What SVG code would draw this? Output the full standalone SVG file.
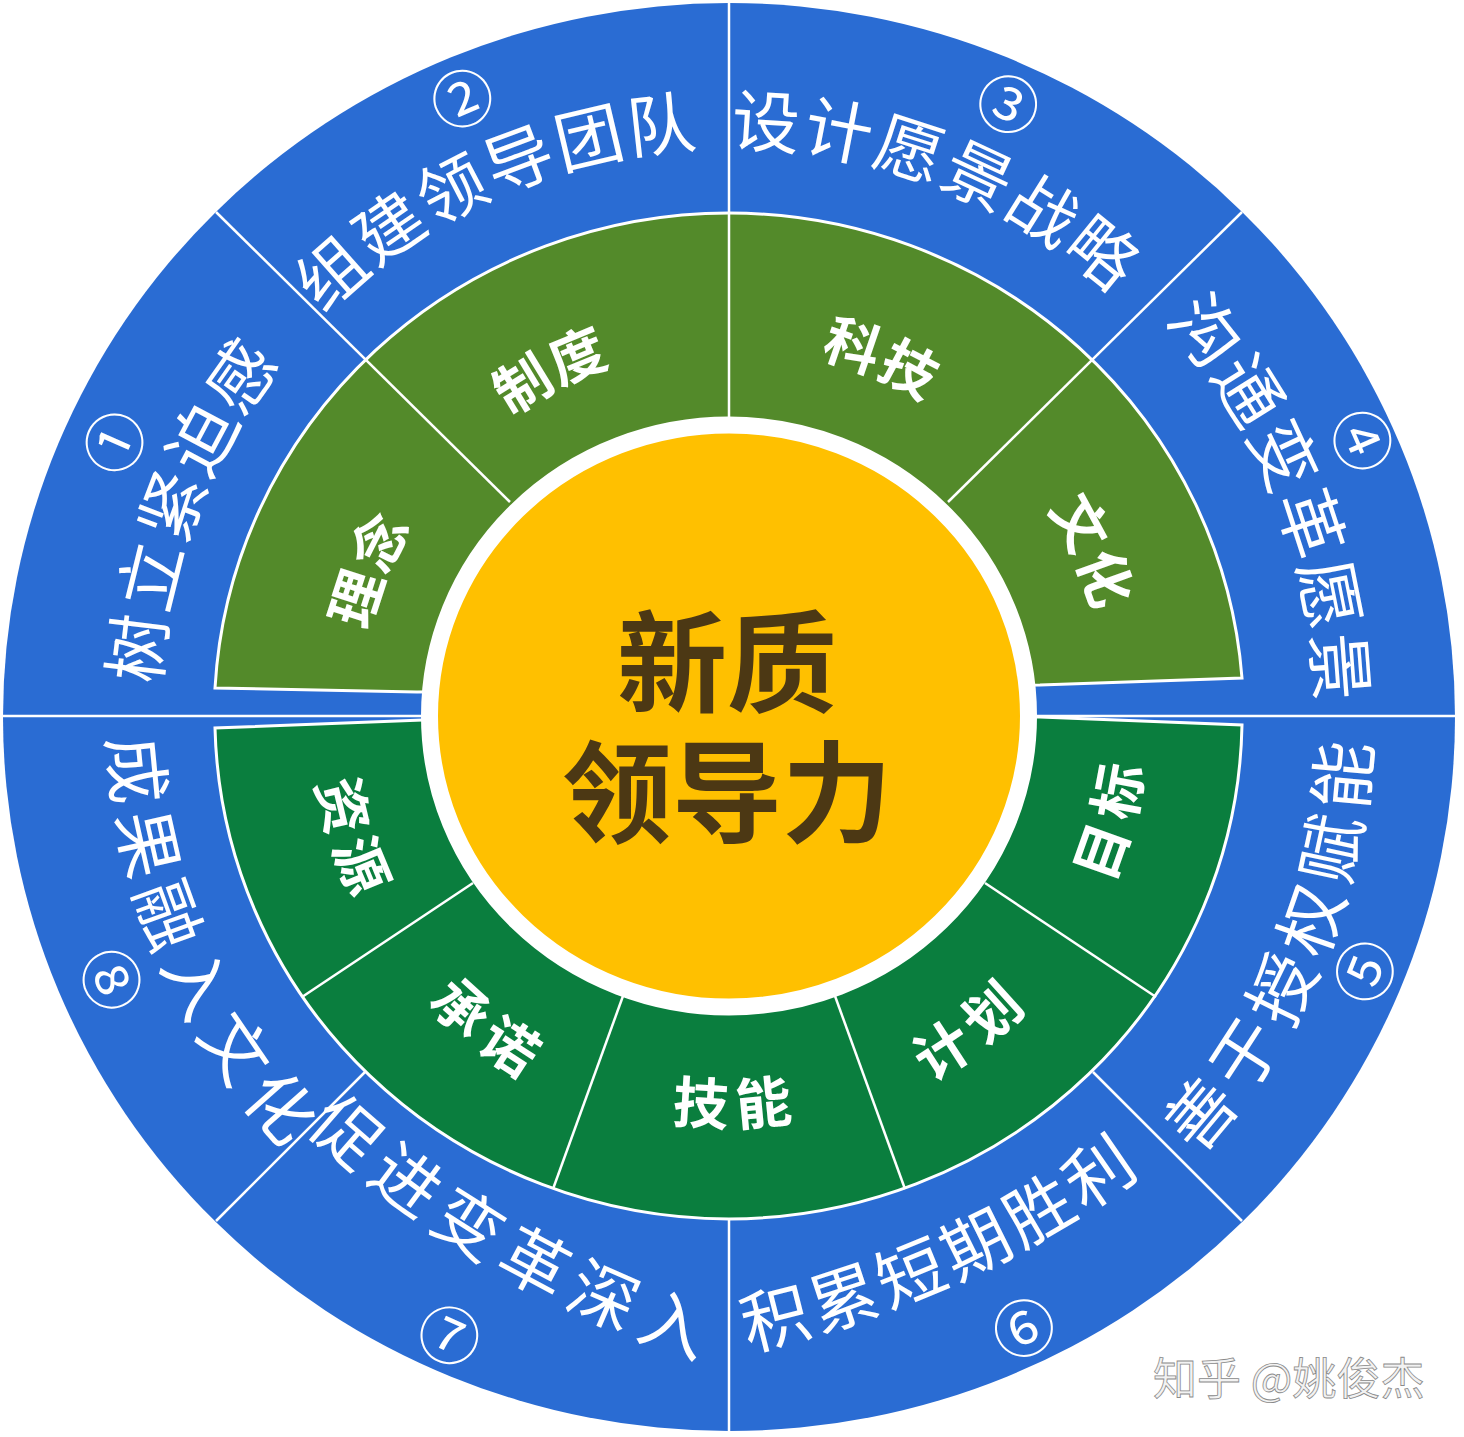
<svg xmlns="http://www.w3.org/2000/svg" width="1464" height="1437" viewBox="0 0 1464 1437">
<style>
.outer{font-family:"Noto Sans CJK SC","Noto Sans",sans-serif;font-size:68px;fill:#fff;letter-spacing:6px}
.num{font-family:"Noto Sans CJK SC","DejaVu Sans",sans-serif;font-size:62px;fill:#fff}
.inner{font-family:"Noto Sans CJK SC",sans-serif;font-size:56px;font-weight:700;fill:#fff;letter-spacing:6px}
.center{font-family:"Noto Sans CJK SC",sans-serif;font-size:110px;font-weight:700;fill:#4C3814}
.div{stroke:#fff;stroke-width:2.5;fill:none}
.gup{fill:#538A2A;stroke:#fff;stroke-width:3}
.glo{fill:#0A7E3E;stroke:#fff;stroke-width:3}
</style>
<defs>
<path id="cw600" d="M729,1316 A600,600 0 1 1 729,116 A600,600 0 1 1 729,1316"/>
<path id="cw618" d="M729,1334 A618,618 0 1 1 729,98 A618,618 0 1 1 729,1334"/>
<path id="ccw612" d="M729,104 A612,612 0 1 0 729,1328 A612,612 0 1 0 729,104"/>
<path id="p6" d="M604.6,1340.6 A1000,1000 0 0 0 1230.8,1057.0"/>
<path id="p7" d="M232.2,1005.5 A1000,1000 0 0 0 848.8,1363.9"/>
<path id="ccw590" d="M729,126 A590,590 0 1 0 729,1306 A590,590 0 1 0 729,126"/>
<path id="cw676" d="M729,1392 A676,676 0 1 1 729,40 A676,676 0 1 1 729,1392"/>
<path id="cw694" d="M729,1410 A694,694 0 1 1 729,22 A694,694 0 1 1 729,1410"/>
<path id="ccw676" d="M729,40 A676,676 0 1 0 729,1392 A676,676 0 1 0 729,40"/>
<path id="ccw682" d="M729,34 A682,682 0 1 0 729,1398 A682,682 0 1 0 729,34"/>
<path id="ccw668" d="M729,48 A668,668 0 1 0 729,1384 A668,668 0 1 0 729,48"/>
<path id="cw395" d="M729,1111 A395,395 0 1 1 729,321 A395,395 0 1 1 729,1111"/>
<path id="cw405" d="M729,1121 A405,405 0 1 1 729,311 A405,405 0 1 1 729,1121"/>
<path id="ccw392" d="M729,324 A392,392 0 1 0 729,1108 A392,392 0 1 0 729,324"/>
<path id="ccw384" d="M729,332 A384,384 0 1 0 729,1100 A384,384 0 1 0 729,332"/>
</defs>
<rect width="1464" height="1437" fill="#fff"/>
<g id="outer-ring">
<ellipse cx="729" cy="717" rx="726" ry="714" fill="#2A6CD3"/>
</g>
<g id="green-upper">
<path class="gup" d="M215,688 A515,503 0 0 1 729,213 A515,503 0 0 1 1242,678 L1040,685 L417,692 Z"/>
</g>
<g id="green-lower">
<path class="glo" d="M1242,725 A515,503 0 0 1 729,1219 A515,503 0 0 1 215,728 L423,720 L1040,717 Z"/>
</g>
<g id="connectors">
<line class="div" x1="729" y1="3" x2="729" y2="420"/>
<line class="div" x1="729" y1="1219" x2="729" y2="1432"/>
<line class="div" x1="3" y1="716" x2="422" y2="716"/>
<line class="div" x1="1036" y1="716" x2="1455" y2="716"/>
<line class="div" x1="216" y1="212" x2="510" y2="502"/>
<line class="div" x1="1242" y1="212" x2="948" y2="502"/>
<line class="div" x1="216" y1="1221" x2="365" y2="1072"/>
<line class="div" x1="1242" y1="1221" x2="1093" y2="1072"/>
<line class="div" x1="985" y1="883" x2="1156" y2="997"/>
<line class="div" x1="835" y1="996" x2="905" y2="1189"/>
<line class="div" x1="623" y1="996" x2="553" y2="1189"/>
<line class="div" x1="473" y1="883" x2="302" y2="997"/>
</g>
<g id="center-node">
<ellipse cx="729" cy="716" rx="299.5" ry="291" fill="#FFC000" stroke="#fff" stroke-width="17"/>
<text class="center" x="727" y="656" text-anchor="middle" dominant-baseline="central">新质</text>
<text class="center" x="727" y="786" text-anchor="middle" dominant-baseline="central">领导力</text>
</g>
<g id="step-1"><text class="outer" dominant-baseline="central" text-anchor="middle"><textPath href="#cw600" startOffset="1162">树立紧迫感</textPath></text>
<text class="num" dominant-baseline="central" text-anchor="middle"><textPath href="#cw676" startOffset="1345">①</textPath></text></g>
<g id="step-2"><text class="outer" dominant-baseline="central" text-anchor="middle"><textPath href="#cw600" startOffset="1634">组建领导团队</textPath></text>
<text class="num" dominant-baseline="central" text-anchor="middle"><textPath href="#cw676" startOffset="1848">②</textPath></text></g>
<g id="step-3"><text class="outer" dominant-baseline="central" text-anchor="middle"><textPath href="#cw600" startOffset="2110">设计愿景战略</textPath></text>
<text class="num" dominant-baseline="central" text-anchor="middle"><textPath href="#cw676" startOffset="2413">③</textPath></text></g>
<g id="step-4"><text class="outer" dominant-baseline="central" text-anchor="middle"><textPath href="#cw618" startOffset="2680">沟通变革愿景</textPath></text>
<text class="num" dominant-baseline="central" text-anchor="middle"><textPath href="#cw694" startOffset="2986">④</textPath></text></g>
<g id="step-5"><text class="outer" dominant-baseline="central" text-anchor="middle"><textPath href="#ccw612" startOffset="2643">善于授权赋能</textPath></text>
<text class="num" dominant-baseline="central" text-anchor="middle"><textPath href="#ccw682" startOffset="2953">⑤</textPath></text></g>
<g id="step-6"><text class="outer" style="letter-spacing:3px" dominant-baseline="central" text-anchor="middle"><textPath href="#p6" startOffset="50%">积累短期胜利</textPath></text>
<text class="num" dominant-baseline="central" text-anchor="middle"><textPath href="#ccw676" startOffset="2427">⑥</textPath></text></g>
<g id="step-7"><text class="outer" style="letter-spacing:8px" dominant-baseline="central" text-anchor="middle"><textPath href="#p7" startOffset="50%">促进变革深入</textPath></text>
<text class="num" dominant-baseline="central" text-anchor="middle"><textPath href="#ccw676" startOffset="1837">⑦</textPath></text></g>
<g id="step-8"><text class="outer" dominant-baseline="central" text-anchor="middle"><textPath href="#ccw590" startOffset="1168">成果融入文化</textPath></text>
<text class="num" dominant-baseline="central" text-anchor="middle"><textPath href="#ccw668" startOffset="1319">⑧</textPath></text></g>
<g id="g-linian"><text class="inner" dominant-baseline="central" text-anchor="middle"><textPath href="#cw395" startOffset="775">理念</textPath></text></g>
<g id="g-zhidu"><text class="inner" dominant-baseline="central" text-anchor="middle"><textPath href="#cw395" startOffset="1055">制度</textPath></text></g>
<g id="g-keji"><text class="inner" dominant-baseline="central" text-anchor="middle"><textPath href="#cw395" startOffset="1402">科技</textPath></text></g>
<g id="g-wenhua"><text class="inner" dominant-baseline="central" text-anchor="middle"><textPath href="#cw405" startOffset="1738">文化</textPath></text></g>
<g id="g-ziyuan"><text class="inner" dominant-baseline="central" text-anchor="middle"><textPath href="#ccw392" startOffset="739">资源</textPath></text></g>
<g id="g-chengnuo"><text class="inner" dominant-baseline="central" text-anchor="middle"><textPath href="#ccw392" startOffset="974">承诺</textPath></text></g>
<g id="g-jineng"><text class="inner" dominant-baseline="central" text-anchor="middle"><textPath href="#ccw384" startOffset="1212">技能</textPath></text></g>
<g id="g-jihua"><text class="inner" dominant-baseline="central" text-anchor="middle"><textPath href="#ccw392" startOffset="1488">计划</textPath></text></g>
<g id="g-mubiao"><text class="inner" dominant-baseline="central" text-anchor="middle"><textPath href="#ccw392" startOffset="1744">目标</textPath></text></g>
<g id="watermark"><text x="1153" y="1395" font-family="'Noto Sans CJK SC',sans-serif" font-size="44" fill="#f2f2f2" stroke="#8a8a8a" stroke-width="0.8">知乎 @姚俊杰</text></g>
</svg>
